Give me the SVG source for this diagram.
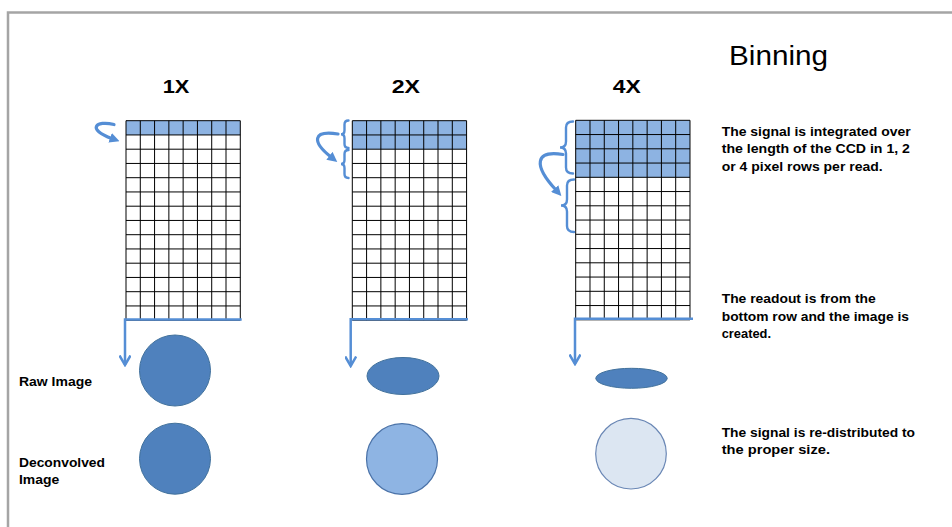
<svg xmlns="http://www.w3.org/2000/svg" xmlns:xlink="http://www.w3.org/1999/xlink" width="952" height="527" viewBox="0 0 952 527">
<style>
.t{font-family:"Liberation Sans",Arial,sans-serif;fill:#000}
.b{font-weight:bold}
.p{font-size:13px}
.grid{fill:none;stroke:#000;stroke-width:1}
.bin{fill:#8db3e2}
.blue{fill:none;stroke:#558ed5;stroke-width:2.5}
.curve{fill:none;stroke:#558ed5;stroke-width:3.2;stroke-linecap:round}
.brace{fill:none;stroke:#558ed5;stroke-width:2.4;stroke-linecap:round}
.dark{fill:#4f81bd;stroke:#41719c;stroke-width:1}
.mid{fill:#8eb4e3;stroke:#4a72a8;stroke-width:1.2}
.light{fill:#dce6f2;stroke:#6a87b5;stroke-width:1.2}
</style>
<defs>
<marker id="vhead" viewBox="0 0 12 12" refX="10.5" refY="6" markerWidth="12" markerHeight="12" markerUnits="userSpaceOnUse" orient="auto">
<path d="M1 0.5 L10.5 6 L1 11.5" fill="none" stroke="#558ed5" stroke-width="2.5"/>
</marker>
<marker id="fhead" viewBox="0 0 10 10" refX="2" refY="5" markerWidth="10" markerHeight="10" markerUnits="userSpaceOnUse" orient="auto">
<path d="M0 0 L10 5 L0 10 Z" fill="#558ed5"/>
</marker>
<path id="gridlines" class="grid" d="M0 0V199.5M14.29 0V199.5M28.57 0V199.5M42.86 0V199.5M57.14 0V199.5M71.43 0V199.5M85.71 0V199.5M100 0V199.5M114.29 0V199.5M0 0H114.29M0 14.25H114.29M0 28.5H114.29M0 42.75H114.29M0 57H114.29M0 71.25H114.29M0 85.5H114.29M0 99.75H114.29M0 114H114.29M0 128.25H114.29M0 142.5H114.29M0 156.75H114.29M0 171H114.29M0 185.25H114.29M0 199.5H114.29"/>
</defs>
<rect x="0" y="0" width="952" height="527" fill="#fff"/>
<path d="M8 527V12.5H952" fill="none" stroke="#a5a5a5" stroke-width="2.5"/>

<g id="title"><text class="t" x="729" y="65" font-size="27.5" textLength="99" lengthAdjust="spacingAndGlyphs">Binning</text></g>

<g id="col1">
<text class="t b" x="162.7" y="93.3" font-size="17.5" textLength="26.7" lengthAdjust="spacingAndGlyphs">1X</text>
<g id="ccd1" transform="translate(126,120.7)">
<rect class="bin" x="0" y="0" width="114.29" height="14.25"/>
<use xlink:href="#gridlines"/>
</g>
<ellipse id="raw1" class="dark" cx="175" cy="370.5" rx="35.5" ry="35.5"/>
<ellipse id="dec1" class="dark" cx="175" cy="458.7" rx="35.5" ry="35.5"/>
</g>

<g id="col2">
<text class="t b" x="391.7" y="93.3" font-size="17.5" textLength="28.3" lengthAdjust="spacingAndGlyphs">2X</text>
<g id="ccd2" transform="translate(352.3,120.7)">
<rect class="bin" x="0" y="0" width="114.29" height="28.5"/>
<use xlink:href="#gridlines"/>
</g>
<ellipse id="raw2" class="dark" cx="403" cy="376" rx="36" ry="18.5"/>
<ellipse id="dec2" class="mid" cx="402" cy="459" rx="35.5" ry="35.3"/>
</g>

<g id="col3">
<text class="t b" x="612.7" y="93.3" font-size="17.5" textLength="28" lengthAdjust="spacingAndGlyphs">4X</text>
<g id="ccd3" transform="translate(575.7,120.3)">
<rect class="bin" x="0" y="0" width="114.29" height="57"/>
<use xlink:href="#gridlines"/>
</g>
<ellipse id="raw3" class="dark" cx="631.5" cy="378.3" rx="35.7" ry="10"/>
<ellipse id="dec3" class="light" cx="631" cy="453.7" rx="35.3" ry="35.3"/>
</g>

<g id="connectors">
<path class="curve" d="M114 124.5 C96 120, 86 129, 112 138.5" marker-end="url(#fhead)"/>
<path class="curve" d="M338 134 C312 130, 312 142, 331 157" marker-end="url(#fhead)"/>
<path class="curve" d="M563 154.5 C535 150, 533 165, 556 190" marker-end="url(#fhead)"/>
<path class="brace" d="M348.5 120.5 Q344.5 120.5 344.5 124.5 V130.3 Q344.5 134.3 341 134.3 Q344.5 134.3 344.5 138.3 V144 Q344.5 148 348.5 148"/>
<path class="brace" d="M348.5 150 Q344.5 150 344.5 154 V160 Q344.5 164 341 164 Q344.5 164 344.5 168 V174 Q344.5 178 348.5 178"/>
<path class="brace" d="M573 121.5 Q566 121.5 566 127.5 V141.5 Q566 147.5 560 147.5 Q566 147.5 566 153.5 V167.5 Q566 173.5 573 173.5"/>
<path class="brace" d="M574 179.5 Q567 179.5 567 185.5 V199.5 Q567 205.5 561 205.5 Q567 205.5 567 211.5 V226 Q567 232 574 232"/>
<path class="blue" d="M241.7 319.5 H125 V365" marker-end="url(#vhead)"/>
<path class="blue" d="M468 319.3 H350.7 V366" marker-end="url(#vhead)"/>
<path class="blue" d="M693 318.7 H575 V364" marker-end="url(#vhead)"/>
</g>

<g id="labels">
<text class="t b" x="19" y="386" font-size="13.5" textLength="73" lengthAdjust="spacingAndGlyphs">Raw Image</text>
<text class="t b" x="19" y="466.7" font-size="13.5" textLength="86" lengthAdjust="spacingAndGlyphs">Deconvolved</text>
<text class="t b" x="19" y="484" font-size="13.5" textLength="40.3" lengthAdjust="spacingAndGlyphs">Image</text>
</g>

<g id="note1">
<text class="t b p" x="721.7" y="136" textLength="189" lengthAdjust="spacingAndGlyphs">The signal is integrated over</text>
<text class="t b p" x="721.7" y="153.3" textLength="188.3" lengthAdjust="spacingAndGlyphs">the length of the CCD in 1, 2</text>
<text class="t b p" x="721.7" y="170.7" textLength="161" lengthAdjust="spacingAndGlyphs">or 4 pixel rows per read.</text>
</g>
<g id="note2">
<text class="t b p" x="721.7" y="303.3" textLength="154" lengthAdjust="spacingAndGlyphs">The readout is from the</text>
<text class="t b p" x="721.7" y="320.7" textLength="187.3" lengthAdjust="spacingAndGlyphs">bottom row and the image is</text>
<text class="t b p" x="721.7" y="338.3" textLength="49.3" lengthAdjust="spacingAndGlyphs">created.</text>
</g>
<g id="note3">
<text class="t b p" x="721.7" y="436.7" textLength="193.3" lengthAdjust="spacingAndGlyphs">The signal is re-distributed to</text>
<text class="t b p" x="721.7" y="454" textLength="108.3" lengthAdjust="spacingAndGlyphs">the proper size.</text>
</g>
</svg>
